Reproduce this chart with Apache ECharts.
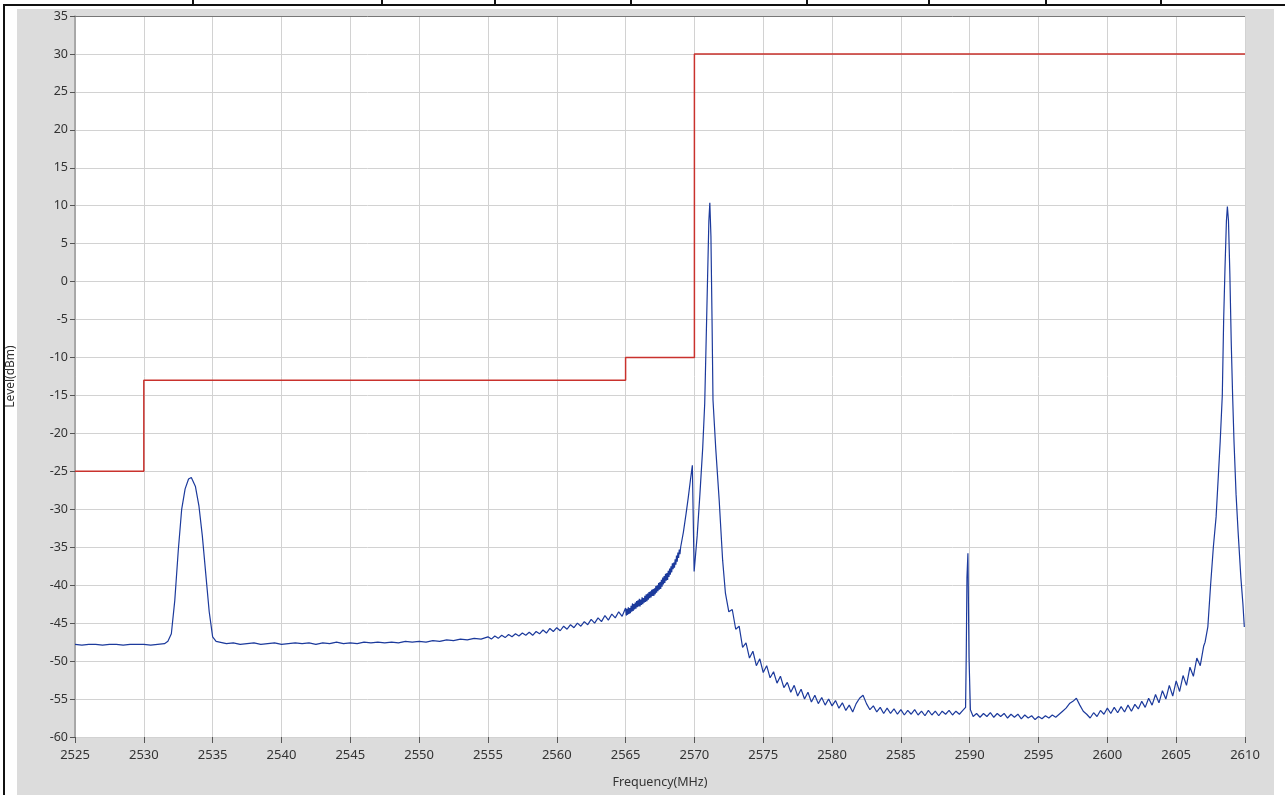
<!DOCTYPE html>
<html>
<head>
<meta charset="utf-8">
<script src="https://cdn.jsdelivr.net/npm/echarts@6/dist/echarts.min.js"></script>
<style>
html,body{margin:0;padding:0;background:#fff;}
#chart{width:1285px;height:795px;}
</style>
</head>
<body>
<div id="chart"></div>
<script>
// ---- Data ----
const xTicks = [2525,2530,2535,2540,2545,2550,2555,2560,2565,2570,2575,2580,2585,2590,2595,2600,2605,2610];
const yTicks = [-60,-55,-50,-45,-40,-35,-30,-25,-20,-15,-10,-5,0,5,10,15,20,25,30,35];

// limit mask (red)
const limitEdges = [2525, 2530, 2565, 2570, 2610];
const limitLevels = [-25, -13, -10, 30, 30];

// measured trace (blue), [frequency MHz, level dBm]
const traceFlat = [
 [2525,-47.8],[2525.5,-47.9],[2526,-47.8],[2526.5,-47.8],[2527,-47.9],[2527.5,-47.8],[2528,-47.8],
 [2528.5,-47.9],[2529,-47.8],[2529.5,-47.8],[2530,-47.8],[2530.5,-47.9],[2531,-47.8],[2531.5,-47.7]
];
const traceBump = [
 [2531.75,-47.4],[2532,-46.4],[2532.25,-42],[2532.5,-35.5],[2532.75,-30],[2533,-27.3],[2533.25,-26],
 [2533.45,-25.8],[2533.75,-27],[2534,-29.5],[2534.25,-33.5],[2534.5,-38.5],[2534.75,-43.5],[2535,-46.8],[2535.25,-47.4]
];
const traceSlope = [
 [2535.5,-47.5],[2536,-47.7],[2536.5,-47.6],[2537,-47.8],[2537.5,-47.7],[2538,-47.6],[2538.5,-47.8],[2539,-47.7],
 [2539.5,-47.6],[2540,-47.8],[2540.5,-47.7],[2541,-47.6],[2541.5,-47.7],[2542,-47.6],[2542.5,-47.8],[2543,-47.6],
 [2543.5,-47.7],[2544,-47.5],[2544.5,-47.7],[2545,-47.6],[2545.5,-47.7],[2546,-47.5],[2546.5,-47.6],[2547,-47.5],
 [2547.5,-47.6],[2548,-47.5],[2548.5,-47.6],[2549,-47.4],[2549.5,-47.5],[2550,-47.4],[2550.5,-47.5],[2551,-47.3],
 [2551.5,-47.4],[2552,-47.2],[2552.5,-47.3],[2553,-47.1],[2553.5,-47.2],[2554,-47.0],[2554.5,-47.1],
 [2555,-46.8],[2555.25,-47.1],[2555.5,-46.7],[2555.75,-47.0],[2556,-46.6],[2556.25,-46.9],[2556.5,-46.5],[2556.75,-46.8],
 [2557,-46.4],[2557.25,-46.7],[2557.5,-46.3],[2557.75,-46.6],[2558,-46.2],[2558.25,-46.6],[2558.5,-46.1],[2558.75,-46.4],
 [2559,-45.9],[2559.25,-46.3],[2559.5,-45.7],[2559.75,-46.1],[2560,-45.6],[2560.25,-46.0],[2560.5,-45.4],[2560.75,-45.8],
 [2561,-45.2],[2561.25,-45.6],[2561.5,-45.0],[2561.75,-45.4],[2562,-44.8],[2562.25,-45.2],[2562.5,-44.5],[2562.75,-45.0],
 [2563,-44.3],[2563.25,-44.8],[2563.5,-44.0],[2563.75,-44.6],[2564,-43.8],[2564.25,-44.3],[2564.5,-43.5],[2564.75,-44.1]
];
const traceRise = [
 [2565.00,-43.0],[2565.05,-44.0],[2565.10,-43.1],[2565.15,-43.9],[2565.20,-42.9],[2565.25,-43.8],[2565.30,-43.0],[2565.35,-43.7],
 [2565.40,-42.7],[2565.45,-43.5],[2565.50,-42.4],[2565.55,-43.4],[2565.60,-42.5],[2565.65,-43.2],[2565.70,-42.3],[2565.75,-43.1],
 [2565.80,-42.1],[2565.85,-42.9],[2565.90,-42.0],[2565.95,-42.8],[2566.00,-41.8],[2566.05,-42.8],[2566.10,-41.9],[2566.15,-42.6],
 [2566.20,-41.6],[2566.25,-42.5],[2566.30,-41.7],[2566.35,-42.3],[2566.40,-41.4],[2566.45,-42.2],[2566.50,-41.2],[2566.55,-42.1],
 [2566.60,-41.1],[2566.65,-41.9],[2566.70,-40.9],[2566.75,-41.7],[2566.80,-40.8],[2566.85,-41.6],[2566.90,-40.6],[2566.95,-41.4],
 [2567.00,-40.5],[2567.05,-41.4],[2567.10,-40.4],[2567.15,-41.2],[2567.20,-40.1],[2567.25,-41.0],[2567.30,-40.0],[2567.35,-40.8],
 [2567.40,-39.7],[2567.45,-40.6],[2567.50,-39.6],[2567.55,-40.5],[2567.60,-39.3],[2567.65,-40.2],[2567.70,-39.0],[2567.75,-39.9],
 [2567.80,-38.8],[2567.85,-39.7],[2567.90,-38.5],[2567.95,-39.4],[2568.00,-38.4],[2568.05,-39.3],[2568.10,-38.1],[2568.15,-38.9],
 [2568.20,-37.8],[2568.25,-38.6],[2568.30,-37.5],[2568.35,-38.3],[2568.40,-37.1],[2568.45,-37.9],[2568.50,-37.0],[2568.55,-37.7],
 [2568.60,-36.6],[2568.65,-37.3],[2568.70,-36.1],[2568.75,-36.9],[2568.80,-35.7],[2568.85,-36.4],[2568.90,-35.3],[2568.95,-35.9],
 [2569.00,-35.0],[2569.2,-33.0],[2569.4,-30.5],[2569.55,-28.5],[2569.7,-26.3],[2569.85,-24.2]
];
const tracePeak1 = [
 [2569.98,-38.2],[2570.2,-33.5],[2570.4,-28],[2570.6,-22],[2570.75,-16],[2570.85,-8],[2570.95,0],[2571.05,8],
 [2571.12,10.4],[2571.2,6],[2571.28,-5],[2571.35,-15.6],[2571.55,-22],[2571.8,-28.8],[2572.05,-36.7]
];
const traceDecay = [
 [2572.25,-41.0],[2572.5,-43.5],[2572.75,-43.2],[2573,-45.8],[2573.25,-45.4],[2573.5,-48.2],[2573.75,-47.6],[2574,-49.6],
 [2574.25,-48.7],[2574.5,-50.6],[2574.75,-49.7],[2575,-51.5],[2575.25,-50.6],[2575.5,-52.2],[2575.75,-51.4],[2576,-52.9],
 [2576.25,-52.0],[2576.5,-53.5],[2576.75,-52.8],[2577,-54.1],[2577.25,-53.2],[2577.5,-54.6],[2577.75,-53.7],[2578,-55.0],
 [2578.25,-54.1],[2578.5,-55.4],[2578.75,-54.5],[2579,-55.6],[2579.25,-54.8],[2579.5,-55.8],[2579.75,-55.0],[2580,-55.9],
 [2580.25,-55.2],[2580.5,-56.2],[2580.75,-55.5],[2581,-56.5],[2581.25,-55.8],[2581.5,-56.7],[2581.75,-55.6],[2582,-54.9],
 [2582.25,-54.5],[2582.5,-55.6],[2582.75,-56.4],[2583,-55.9],[2583.25,-56.7],[2583.5,-56.1],[2583.75,-56.9],[2584,-56.2],
 [2584.25,-56.9],[2584.5,-56.3],[2584.75,-57.0],[2585,-56.4],[2585.25,-57.1],[2585.5,-56.5],[2585.75,-57.0],[2586,-56.4],
 [2586.25,-57.1],[2586.5,-56.6],[2586.75,-57.2],[2587,-56.5],[2587.25,-57.1],[2587.5,-56.6],[2587.75,-57.2],[2588,-56.6],
 [2588.25,-57.0],[2588.5,-56.5],[2588.75,-57.1],[2589,-56.6],[2589.25,-57.0],[2589.5,-56.5],[2589.7,-56.1]
];
const traceSpike = [
 [2589.75,-49],[2589.8,-39],[2589.87,-35.8],[2589.95,-49.5],[2590.05,-56.4]
];
const traceFloor = [
 [2590.25,-57.3],[2590.5,-56.9],[2590.75,-57.4],[2591,-56.9],[2591.25,-57.3],[2591.5,-56.8],[2591.75,-57.4],[2592,-56.9],
 [2592.25,-57.3],[2592.5,-56.9],[2592.75,-57.5],[2593,-57.0],[2593.25,-57.4],[2593.5,-57.0],[2593.75,-57.6],[2594,-57.1],
 [2594.25,-57.5],[2594.5,-57.2],[2594.75,-57.7],[2595,-57.3],[2595.25,-57.6],[2595.5,-57.2],[2595.75,-57.5],[2596,-57.1],
 [2596.25,-57.4],[2596.5,-57.0],[2596.75,-56.6],[2597,-56.2],[2597.25,-55.6],[2597.5,-55.3],[2597.75,-54.9],[2598,-55.8],
 [2598.25,-56.6],[2598.5,-57.0],[2598.75,-57.5],[2599,-56.8],[2599.25,-57.3],[2599.5,-56.5],[2599.75,-57.0],[2600,-56.2],
 [2600.25,-56.9],[2600.5,-56.1],[2600.75,-56.8],[2601,-56.0],[2601.25,-56.7],[2601.5,-55.8],[2601.75,-56.6],[2602,-55.7],
 [2602.25,-56.3],[2602.5,-55.3],[2602.75,-56.1],[2603,-54.9],[2603.25,-55.8],[2603.5,-54.4],[2603.75,-55.5],[2604,-53.9],
 [2604.25,-55.0],[2604.5,-53.2],[2604.75,-54.6],[2605,-52.6],[2605.25,-54.0],[2605.5,-51.9],[2605.75,-53.2],[2606,-50.8],
 [2606.25,-52.0],[2606.5,-49.6],[2606.75,-50.6],[2607,-48.0],[2607.1,-47.5],[2607.3,-45.5]
];
const tracePeak2 = [
 [2607.5,-40],[2607.7,-35],[2607.9,-31],[2608.05,-26],[2608.2,-21],[2608.35,-15],[2608.45,-5],[2608.55,2],
 [2608.65,8],[2608.72,9.9],[2608.8,8],[2608.9,1],[2609.0,-8],[2609.1,-15],[2609.2,-21],[2609.35,-28],
 [2609.5,-33],[2609.7,-39],[2609.85,-42.5],[2609.95,-45.5]
];

// ---- Build ----
const traceData = [].concat(traceFlat, traceBump, traceSlope, traceRise, tracePeak1, traceDecay, traceSpike, traceFloor, tracePeak2);
const limitData = limitEdges.map((f, i) => [f, limitLevels[i]]);

const chart = echarts.init(document.getElementById('chart'), null, {renderer: 'canvas'});
const FONT = 'Noto Sans';

const topDividers = [193, 382, 495, 631, 807, 929, 1046, 1161];
const graphics = [
  {type: 'rect', shape: {x: 17, y: 9, width: 1257, height: 786}, style: {fill: '#dcdcdc'}, z: -10, silent: true},
  {type: 'line', shape: {x1: 3, y1: 5, x2: 1285, y2: 5}, style: {stroke: '#111', lineWidth: 2}, silent: true},
  {type: 'line', shape: {x1: 4, y1: 4, x2: 4, y2: 795}, style: {stroke: '#111', lineWidth: 2}, silent: true},
  {type: 'line', shape: {x1: 75, y1: 16.5, x2: 1245, y2: 16.5}, style: {stroke: '#777', lineWidth: 1}, z: 20, silent: true}
];
topDividers.forEach(x => graphics.push({type: 'line', shape: {x1: x, y1: 0, x2: x, y2: 5}, style: {stroke: '#111', lineWidth: 2}, silent: true}));

chart.setOption({
  animation: false,
  backgroundColor: '#fff',
  graphic: graphics,
  grid: {left: 75, right: 40, top: 16, bottom: 58, show: true, backgroundColor: '#fff', borderWidth: 0,
         containLabel: false, outerBoundsMode: 'none'},
  xAxis: {
    type: 'value', min: xTicks[0], max: xTicks[xTicks.length - 1], interval: 5,
    name: 'Frequency(MHz)', nameLocation: 'middle', nameGap: 39,
    nameTextStyle: {color: '#333', fontSize: 12.5, fontFamily: FONT},
    axisLine: {show: false, onZero: false},
    axisTick: {show: true, length: 6, lineStyle: {color: '#555'}},
    axisLabel: {color: '#333', fontSize: 13, fontFamily: FONT, margin: 12, formatter: v => String(v)},
    splitLine: {show: true, lineStyle: {color: '#d2d2d2', width: 1}}
  },
  yAxis: {
    type: 'value', min: yTicks[0], max: yTicks[yTicks.length - 1], interval: 5,
    name: 'Level(dBm)', nameLocation: 'middle', nameGap: 58, nameRotate: 90,
    nameTextStyle: {color: '#333', fontSize: 12, fontFamily: FONT},
    axisLine: {show: true, onZero: false, lineStyle: {color: '#999', width: 1.5}},
    axisTick: {show: true, length: 5, lineStyle: {color: '#555'}},
    axisLabel: {color: '#333', fontSize: 12.5, fontFamily: FONT, margin: 7, formatter: v => String(v)},
    splitLine: {show: true, lineStyle: {color: '#d2d2d2', width: 1}}
  },
  series: [
    {
      name: 'Limit', type: 'line', step: 'end', data: limitData, symbol: 'none',
      lineStyle: {color: '#c9322d', width: 1.5}, z: 3
    },
    {
      name: 'Trace', type: 'line', data: traceData, symbol: 'none',
      lineStyle: {color: '#1c3a9c', width: 1.2}, z: 4
    }
  ]
});
</script>
</body>
</html>
